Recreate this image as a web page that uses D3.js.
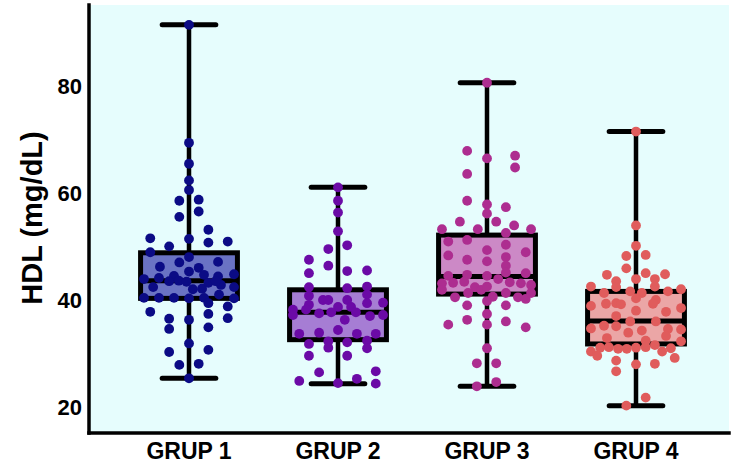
<!DOCTYPE html>
<html>
<head>
<meta charset="utf-8">
<script src="https://cdn.jsdelivr.net/npm/d3@7"></script>
<style>
  html, body { margin: 0; padding: 0; background: #ffffff; }
  svg { display: block; }
  text { font-family: "Liberation Sans", Arial, Helvetica, sans-serif; font-weight: bold; fill: #000; }
</style>
</head>
<body>
<svg id="chart" width="731" height="469"></svg>
<script>
// HDL (mg/dL) by group: box statistics plus individual observations
const groups = ["GRUP 1", "GRUP 2", "GRUP 3", "GRUP 4"];
const yTicks = [20, 40, 60, 80];

const whiskerLow  = [25.5, 24.5, 24.0, 20.4];
const q1          = [40.4, 32.7, 41.2, 31.9];
const median      = [43.7, 37.8, 44.5, 36.2];
const q3          = [48.9, 42.0, 52.2, 41.7];
const whiskerHigh = [91.4, 61.1, 80.6, 71.5];

const pointColors = ["#0b0b85", "#6b0aa6", "#ad2d90", "#e05c5c"];
const boxColors   = ["#6a73c4", "#a67dd4", "#cc89c6", "#eba6a6"];

// observations: [HDL value, horizontal jitter as a fraction of half the box width]
const grup1 = [
  [91.4,0],[69.4,0],[65.5,0],[62.4,0],[60.6,0],[58.6,-0.2],[58.8,0.2],[55.6,-0.2],[56.6,0.2],
  [53.2,0.4],[51.6,-0.8],[51.5,0],[50.8,0.4],[51.0,0.8],[50.1,-0.41],[49.0,-0.8],[48.1,0],
  [47.2,0.6],[47.1,-0.2],[46.3,-0.6],[46.1,0.2],[45.4,0],[44.8,0.31],[44.9,0.93],[44.6,-0.31],
  [44.5,0.6],[44.0,-0.93],[44.2,-0.62],[43.6,-0.41],[43.7,-0.21],[43.5,-0.05],[42.5,-0.74],
  [42.1,0.08],[42.2,0.27],[43.3,0.4],[42.9,0.66],[42.5,0.93],[43.6,0.55],
  [40.5,-0.93],[40.5,-0.62],[40.5,-0.31],[40.4,0],[40.5,0.31],[41.1,0.62],[40.4,0.93],
  [39.5,0.4],[37.9,-0.8],[38.9,0.8],[36.6,-0.41],[36.4,0],[37.5,0.4],[36.7,0.8],[34.7,-0.41],
  [35.0,0.4],[32.0,0],[30.4,-0.41],[30.8,0.4],[28.0,-0.2],[28.2,0.2],[25.5,0]
];
const grup2 = [
  [61.1,0],[58.6,0],[56.4,0],[52.9,0],[49.6,-0.2],[50.3,0.19],[47.6,-0.6],[46.5,-0.2],
  [45.1,-0.6],[45.5,0.19],[45.6,0.6],[42.5,-0.6],[42.3,0.19],[42.6,0.6],[40.9,-0.6],
  [40.1,-0.31],[40.1,-0.2],[40.1,0.19],[41.1,0.6],[39.5,0.6],[39.6,0.93],[39.2,-0.6],
  [38.8,0],[38.8,0.27],[38.3,-0.93],[38.3,-0.66],[37.8,-0.14],[37.8,0.37],[37.3,-0.93],
  [37.6,-0.39],[37.1,0.66],[37.3,0.93],[36.4,0.14],[34.5,0],[33.8,-0.8],[34.0,-0.39],
  [33.8,0.39],[33.8,0.78],[31.9,-0.6],[32.4,-0.2],[32.2,0.19],[32.5,0.6],[31.2,-0.2],
  [31.1,0.6],[29.7,-0.6],[29.7,0.19],[26.6,-0.39],[26.8,0.78],[25.0,-0.8],[24.6,0],
  [25.4,0.39],[24.5,0.78]
];
const grup3 = [
  [80.6,0],[67.9,-0.41],[66.5,0],[67.0,0.58],[64.8,0.58],[63.6,-0.41],[58.6,-0.41],[57.9,0],
  [56.2,0],[57.4,0.39],[54.7,-0.56],[54.7,0.19],[54.0,0.56],[53.3,-0.93],[53.3,-0.19],
  [53.3,0.91],[52.6,0.39],[51.0,-0.8],[51.3,-0.41],[50.4,0.39],[49.4,0],[49.0,0.8],
  [48.4,-0.8],[47.6,-0.41],[47.3,0],[48.1,0.39],[46.5,0.39],[45.2,0.39],[45.1,0.8],
  [44.6,-0.8],[44.8,-0.41],[44.6,0],[44.0,0.23],[43.2,-0.93],[43.3,-0.7],[43.5,-0.47],
  [43.4,0.47],[43.2,0.7],[42.9,0.91],[42.0,-0.93],[42.5,-0.25],[42.0,-0.12],[42.6,0],
  [41.4,-0.39],[41.4,0.39],[40.6,-0.66],[40.7,0.12],[40.6,0.64],[40.3,0.8],[41.4,0.91],
  [39.9,0],[39.1,-0.41],[39.1,0.39],[37.5,0],[36.4,-0.41],[36.1,0.39],[35.5,-0.8],
  [35.5,0],[35.0,0.8],[31.1,0],[28.3,-0.21],[28.3,0.19],[24.8,0.19],[24.0,-0.21]
];
const grup4 = [
  [71.5,0],[54.0,0],[50.2,0],[48.3,-0.2],[48.5,0.2],[46.0,-0.2],[44.8,-0.6],[45.1,0.2],
  [44.9,0.6],[43.6,-0.41],[44.0,0],[44.0,0.39],[42.6,-0.93],[42.5,-0.41],[42.6,0.39],
  [42.1,0.93],[41.4,-0.66],[41.7,-0.12],[41.4,0.12],[41.7,0.66],[40.4,0],[40.1,0.41],
  [39.4,-0.62],[39.5,-0.41],[39.3,-0.31],[39.4,0.35],[39.0,-0.93],[38.6,0.93],[38.1,0],
  [37.9,0.62],[37.1,-0.41],[36.1,-0.12],[36.1,0.41],[34.8,-0.93],[35.3,-0.66],[35.2,-0.41],
  [34.4,0.12],[34.0,-0.16],[34.7,0.66],[34.6,0.93],[33.4,0.62],[33.0,-0.6],[32.5,0.2],
  [31.7,0.39],[32.4,0.93],[31.2,-0.74],[31.3,-0.56],[31.0,-0.37],[31.0,-0.19],[31.2,0],
  [31.3,0.2],[31.1,0.72],[30.5,-0.93],[29.7,-0.8],[30.5,0.54],[29.3,0.8],[28.8,-0.41],
  [28.1,0],[28.2,0.39],[26.8,-0.41],[21.9,0.2],[20.4,-0.2]
];
const observations = [grup1, grup2, grup3, grup4];

// ---- layout ----
const svg = d3.select("#chart");
const plot = { left: 89, right: 729, top: 5, bottom: 433 };

const x = d3.scaleBand().domain(groups).range([114.5, 710.5]).padding(0);
const y = d3.scaleLinear().domain([15.3, 95.1]).range([plot.bottom, plot.top]);

const boxW = x.bandwidth() * 0.65;
const capW = x.bandwidth() * 0.36;
const cx = g => x(g) + x.bandwidth() / 2;

// panel background
svg.append("rect")
  .attr("x", plot.left).attr("y", plot.top)
  .attr("width", plot.right - plot.left).attr("height", plot.bottom - plot.top)
  .attr("fill", "#e6fdfd");

const stats = groups.map((g, i) => ({
  g, i, lo: whiskerLow[i], q1: q1[i], med: median[i], q3: q3[i], hi: whiskerHigh[i]
}));

const boxes = svg.append("g").selectAll("g").data(stats).join("g");

// whisker stems
boxes.append("line")
  .attr("x1", d => cx(d.g)).attr("x2", d => cx(d.g))
  .attr("y1", d => y(d.lo)).attr("y2", d => y(d.hi))
  .attr("stroke", "#000").attr("stroke-width", 4.5);

// whisker caps
["lo", "hi"].forEach(k => {
  boxes.append("line")
    .attr("x1", d => cx(d.g) - capW / 2).attr("x2", d => cx(d.g) + capW / 2)
    .attr("y1", d => y(d[k])).attr("y2", d => y(d[k]))
    .attr("stroke", "#000").attr("stroke-width", 5).attr("stroke-linecap", "round");
});

// interquartile boxes
boxes.append("rect")
  .attr("x", d => cx(d.g) - boxW / 2).attr("width", boxW)
  .attr("y", d => y(d.q3)).attr("height", d => y(d.q1) - y(d.q3))
  .attr("fill", d => boxColors[d.i])
  .attr("stroke", "#000").attr("stroke-width", 5);

// medians
boxes.append("line")
  .attr("x1", d => cx(d.g) - boxW / 2).attr("x2", d => cx(d.g) + boxW / 2)
  .attr("y1", d => y(d.med)).attr("y2", d => y(d.med))
  .attr("stroke", "#000").attr("stroke-width", 5);

// individual observations
groups.forEach((g, i) => {
  svg.append("g").selectAll("circle").data(observations[i]).join("circle")
    .attr("cx", d => cx(g) + d[1] * boxW / 2)
    .attr("cy", d => y(d[0]))
    .attr("r", 4.9)
    .attr("fill", pointColors[i]);
});

// y axis
const yAxis = svg.append("g")
  .attr("transform", `translate(${plot.left},0)`)
  .call(d3.axisLeft(y).tickValues(yTicks).tickSize(0).tickPadding(7));
yAxis.select(".domain")
  .attr("d", `M0,${plot.top}V${plot.bottom}`)
  .attr("stroke", "#000").attr("stroke-width", 3.5).attr("stroke-linecap", "square");
yAxis.selectAll("text")
  .attr("font-size", 22).attr("fill", "#000");
yAxis.attr("font-family", null);

// x axis
const xAxis = svg.append("g")
  .attr("transform", `translate(0,${plot.bottom})`)
  .call(d3.axisBottom(x).tickSize(0).tickPadding(10));
xAxis.select(".domain")
  .attr("d", `M${plot.left},0H${plot.right}`)
  .attr("stroke", "#000").attr("stroke-width", 3.5).attr("stroke-linecap", "square");
xAxis.selectAll("text")
  .attr("font-size", 23).attr("fill", "#000");
xAxis.attr("font-family", null);

// y axis title
svg.append("text")
  .attr("transform", "translate(42,218) rotate(-90)")
  .attr("text-anchor", "middle")
  .attr("font-size", 29)
  .text("HDL (mg/dL)");
</script>
</body>
</html>
